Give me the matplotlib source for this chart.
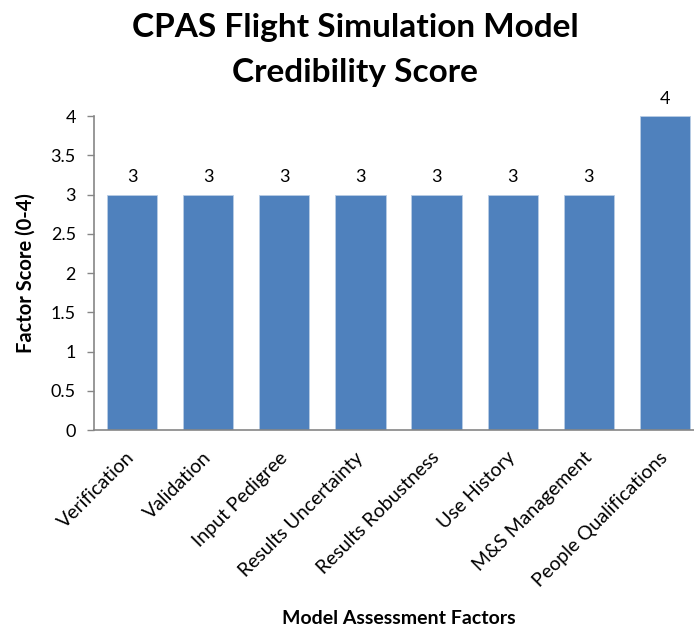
import matplotlib
matplotlib.use("Agg")
import matplotlib.pyplot as plt

# Chart data
factors = ["Verification", "Validation", "Input Pedigree", "Results Uncertainty",
           "Results Robustness", "Use History", "M&S Management", "People Qualifications"]
scores = [3, 3, 3, 3, 3, 3, 3, 4]
y_ticks = [0, 0.5, 1, 1.5, 2, 2.5, 3, 3.5, 4]
y_tick_labels = ["0", "0.5", "1", "1.5", "2", "2.5", "3", "3.5", "4"]

plt.rcParams["font.family"] = ["Lato", "DejaVu Sans"]

bar_color = "#4F81BD"
axis_color = "#868686"

fig = plt.figure(figsize=(6.94, 6.35), dpi=100)
ax = fig.add_axes([0.1354, 0.3228, 0.8776, 0.4945])

x = range(len(factors))
bars = ax.bar(x, scores, width=0.66, color=bar_color, edgecolor="#B9CDE5", linewidth=0.6)

# value labels above each bar
for xi, val in zip(x, scores):
    ax.text(xi, val + 0.12, str(val), ha="center", va="bottom", fontsize=13)

ax.set_xlim(-0.5, len(factors) - 0.5)
ax.set_ylim(0, 4)
ax.set_yticks(y_ticks)
ax.set_yticklabels(y_tick_labels, fontsize=13)
ax.set_xticks(list(x))
ax.set_xticklabels(factors, rotation=45, ha="right", va="center",
                   rotation_mode="anchor", fontsize=14)
ax.tick_params(axis="x", length=0, pad=18)
ax.tick_params(axis="y", length=5, width=1, color=axis_color, pad=8)

for side in ["top", "right"]:
    ax.spines[side].set_visible(False)
for side in ["left", "bottom"]:
    ax.spines[side].set_color(axis_color)
    ax.spines[side].set_linewidth(1.2)

ax.set_ylabel("Factor Score (0-4)", fontsize=14.5, fontweight="bold", labelpad=11)
fig.text(0.574, 0.012, "Model Assessment Factors", ha="center", va="bottom",
         fontsize=14, fontweight="bold")
fig.text(0.512, 0.98, "CPAS Flight Simulation Model\nCredibility Score", ha="center", va="top",
         fontsize=24, fontweight="bold", linespacing=1.66)

fig.savefig("out.png", dpi=100)
